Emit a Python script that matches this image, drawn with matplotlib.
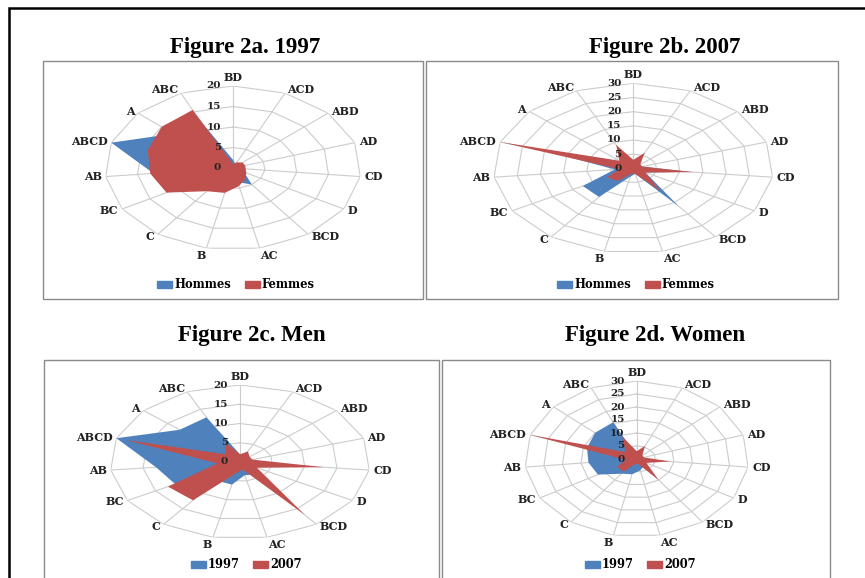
import numpy as np
import matplotlib
matplotlib.use("Agg")
import matplotlib.pyplot as plt
from matplotlib.patches import Rectangle, Patch

W, H = 865, 578

categories = ["BD", "ACD", "ABD", "AD", "CD", "D", "BCD", "AC", "B", "C",
              "BC", "AB", "ABCD", "A", "ABC"]

# Figure 2a. 1997
hommes_1997 = [2, 1, 1, 1, 1.5, 2, 5, 3.5, 5.5, 6.5, 11, 12.5, 20, 12.5, 13]
femmes_1997 = [1, 1.5, 2, 2, 2, 2.4, 3.3, 4.5, 6.2, 7, 12, 13, 14, 15, 15.5]
# Figure 2b. 2007
hommes_2007 = [2, 3, 2, 2, 12, 3, 16.5, 2, 3, 12.5, 12.5, 4, 19, 3, 5]
femmes_2007 = [3, 6, 2, 2, 13, 3, 10, 2, 2, 5.5, 6.5, 3, 30, 4, 9]
# Figure 2c. Men
men_1997 = [2, 1, 1, 1, 1.5, 2, 4, 3.5, 6, 6, 11.5, 13, 20, 12.5, 12.7]
men_2007 = [2, 3, 2, 2, 13, 3, 17, 2, 3, 12.3, 12.8, 3.5, 18.5, 3, 5.5]
# Figure 2d. Women
women_1997 = [1, 1.5, 2, 2, 2, 2.4, 3.3, 4.5, 6, 7, 12, 13, 14, 15, 15.5]
women_2007 = [3, 5.5, 2, 2, 9, 3, 10, 2, 2, 6, 6, 3, 30, 4, 9.5]

titles = ["Figure 2a. 1997", "Figure 2b. 2007", "Figure 2c. Men", "Figure 2d. Women"]
legend_ab = ["Hommes", "Femmes"]
legend_cd = ["1997", "2007"]

BLUE = "#4F81BD"
RED = "#C0504D"
GRID = "#cccccc"
LABEL_FONT = "DejaVu Serif"
TITLE_FONT = "Liberation Serif"

fig = plt.figure(figsize=(W / 100, H / 100), dpi=100)


def fx(x):
    return x / W


def fy(y):
    return 1 - y / H


# outer frame (extends past the right and bottom edges)
fig.add_artist(Rectangle((fx(9), fy(620)), 900 / W, 612 / H,
                         transform=fig.transFigure, fill=False, ec="black", lw=1.8))

# panel boxes (x0, y0, x1, y1) in pixels
boxes = [(43, 61, 423, 299), (426, 61, 838, 299), (44, 360, 439, 600), (442, 360, 830, 600)]
for (x0, y0, x1, y1) in boxes:
    fig.add_artist(Rectangle((fx(x0), fy(y1)), (x1 - x0) / W, (y1 - y0) / H,
                             transform=fig.transFigure, fill=False, ec="#8a8a8a", lw=1.0))

# titles
title_pos = [(245, 47), (665, 47), (252, 335), (655, 335)]
for t, (x, y) in zip(titles, title_pos):
    fig.text(fx(x), fy(y), t, ha="center", va="center", fontsize=16.5,
             fontweight="bold", family=TITLE_FONT)

panels = [
    dict(center=(233, 168), rx=128, ry=82, rmax=20, series=(hommes_1997, femmes_1997),
         names=legend_ab, leg=(236, 285)),
    dict(center=(633.3, 168.3), rx=140, ry=85, rmax=30, series=(hommes_2007, femmes_2007),
         names=legend_ab, leg=(636, 285)),
    dict(center=(240, 462), rx=130, ry=77, rmax=20, series=(men_1997, men_2007),
         names=legend_cd, leg=(246, 565)),
    dict(center=(636.7, 459), rx=112, ry=78, rmax=30, series=(women_1997, women_2007),
         names=legend_cd, leg=(640, 565)),
]

n = len(categories)
theta = np.arange(n) * 2 * np.pi / n
theta_c = np.append(theta, theta[0])

for p in panels:
    cx, cy = p["center"]
    rx, ry = p["rx"], p["ry"]
    ax = fig.add_axes([fx(cx - rx), fy(cy + ry), 2 * rx / W, 2 * ry / H], projection="polar")
    ax.set_aspect("auto")
    ax.set_theta_zero_location("N")
    ax.set_theta_direction(-1)
    ax.set_ylim(0, p["rmax"])
    ax.grid(False)
    ax.set_xticks([])
    ax.set_yticks([])
    ax.spines["polar"].set_visible(False)
    ax.patch.set_visible(False)

    rticks = np.arange(5, p["rmax"] + 1, 5)
    for r in rticks:
        ax.plot(theta_c, np.full(n + 1, r), color=GRID, lw=0.8, zorder=1)
    for t in theta:
        ax.plot([t, t], [0, p["rmax"]], color=GRID, lw=0.8, zorder=1)

    s1, s2 = p["series"]
    ax.fill(theta_c, np.append(s1, s1[0]), color=BLUE, lw=0, zorder=2)
    ax.fill(theta_c, np.append(s2, s2[0]), color=RED, lw=0, zorder=3)

    # radial tick labels
    for r in np.arange(0, p["rmax"] + 1, 5):
        ax.annotate(str(int(r)), xy=(0, r), xytext=(-12, 0), textcoords="offset pixels",
                    ha="right", va="center", fontsize=7.5, fontweight="bold",
                    family=LABEL_FONT, color="#222222", zorder=5, annotation_clip=False)

    # category labels
    for t, lab in zip(theta, categories):
        s, c = np.sin(t), np.cos(t)
        dxv, dyv = s * rx, c * ry
        norm = np.hypot(dxv, dyv)
        dxv, dyv = dxv / norm, dyv / norm
        if s > 0.1:
            ha = "left"
        elif s < -0.1:
            ha = "right"
        else:
            ha = "center"
        va = "center"
        off = 4
        if c > 0.95:
            va = "bottom"
            off = 3
        elif c < -0.95:
            va = "top"
            off = 2
        ax.annotate(lab, xy=(t, p["rmax"]), xytext=(off * dxv, off * dyv),
                    textcoords="offset pixels", ha=ha, va=va, fontsize=8,
                    fontweight="bold", family=LABEL_FONT, color="#222222",
                    annotation_clip=False)

    handles = [Patch(color=BLUE), Patch(color=RED)]
    lx, ly = p["leg"]
    ax.legend(handles, p["names"], loc="center", bbox_to_anchor=(fx(lx), fy(ly)),
              bbox_transform=fig.transFigure, ncol=2, frameon=False,
              handlelength=1.3, handleheight=0.6, handletextpad=0.15, columnspacing=1.2,
              prop=dict(family=LABEL_FONT, weight="bold", size=8.3), borderpad=0)

fig.savefig("out.png", dpi=100)
